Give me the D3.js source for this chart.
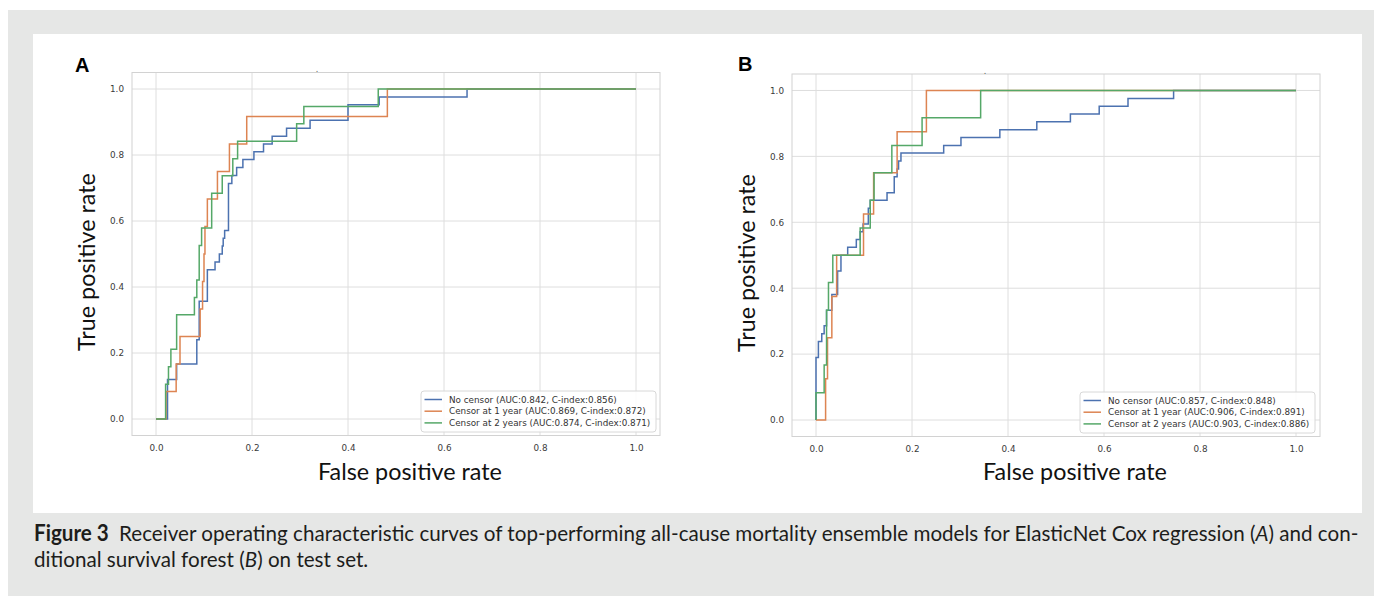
<!DOCTYPE html>
<meta charset="utf-8">
<head>
  <meta charset="UTF-8">
  <title>ROC curves, Figure 3</title>
  <script src="https://d3js.org/d3.v7.min.js"></script>
  <style>
      body { margin: 0; background-color: #fff; }
      svg { display: block; }
  </style>
</head>
<body>
<div id="my_dataviz"></div>
<script>

// tick values shared by both axes of both panels
var rateTicks = [0, 0.2, 0.4, 0.6, 0.8, 1.0];

// Panel A (ElasticNet Cox regression): [fpr, tpr] at the top of every step
var aNoCensor = [[0, 0], [0.024, 0.12], [0.043, 0.167], [0.085, 0.24], [0.09, 0.357],
  [0.107, 0.452], [0.123, 0.476], [0.132, 0.5], [0.138, 0.524], [0.14, 0.548],
  [0.143, 0.571], [0.151, 0.714], [0.158, 0.738], [0.168, 0.762], [0.181, 0.786],
  [0.204, 0.81], [0.224, 0.833], [0.242, 0.857], [0.272, 0.881], [0.321, 0.905],
  [0.4, 0.952], [0.465, 0.976], [0.648, 1], [1, 1]];
var aCensor1 = [[0, 0], [0.021, 0.083], [0.042, 0.167], [0.05, 0.25], [0.092, 0.333],
  [0.097, 0.417], [0.1, 0.5], [0.102, 0.583], [0.107, 0.667], [0.128, 0.75],
  [0.153, 0.833], [0.189, 0.917], [0.482, 1], [1, 1]];
var aCensor2 = [[0, 0], [0.02, 0.105], [0.026, 0.158], [0.031, 0.211], [0.043, 0.316],
  [0.08, 0.368], [0.085, 0.421], [0.09, 0.526], [0.095, 0.579], [0.116, 0.684],
  [0.138, 0.737], [0.16, 0.789], [0.17, 0.842], [0.293, 0.895], [0.308, 0.947],
  [0.463, 1], [1, 1]];

// Panel B (conditional survival forest)
var bNoCensor = [[0, 0], [0, 0.19], [0.005, 0.238], [0.012, 0.262], [0.017, 0.286],
  [0.022, 0.333], [0.033, 0.381], [0.045, 0.452], [0.052, 0.5], [0.066, 0.524],
  [0.084, 0.548], [0.092, 0.571], [0.098, 0.595], [0.109, 0.643], [0.113, 0.667],
  [0.148, 0.69], [0.163, 0.738], [0.169, 0.762], [0.172, 0.786], [0.177, 0.81],
  [0.266, 0.833], [0.302, 0.857], [0.383, 0.881], [0.46, 0.905], [0.53, 0.929],
  [0.59, 0.952], [0.65, 0.976], [0.745, 1], [1, 1]];
var bCensor1 = [[0, 0], [0.02, 0.125], [0.024, 0.25], [0.033, 0.375], [0.043, 0.5],
  [0.099, 0.625], [0.12, 0.75], [0.169, 0.875], [0.23, 1], [1, 1]];
var bCensor2 = [[0, 0], [0, 0.083], [0.017, 0.167], [0.022, 0.333], [0.026, 0.417],
  [0.035, 0.5], [0.092, 0.583], [0.113, 0.667], [0.121, 0.75], [0.158, 0.833],
  [0.221, 0.917], [0.343, 1], [1, 1]];

var aLegend = ["No censor (AUC:0.842, C-index:0.856)",
               "Censor at 1 year (AUC:0.869, C-index:0.872)",
               "Censor at 2 years (AUC:0.874, C-index:0.871)"];
var bLegend = ["No censor (AUC:0.857, C-index:0.848)",
               "Censor at 1 year (AUC:0.906, C-index:0.891)",
               "Censor at 2 years (AUC:0.903, C-index:0.886)"];

var seriesColors = ["#4c72b0", "#dd8452", "#55a868"];

var xTitle = "False positive rate";
var yTitle = "True positive rate";

// caption, pieces are [text, style]
var captionLine1 = [["Figure 3", "bold"],
  ["\u2002Receiver operating characteristic curves of top-performing all-cause mortality ensemble models for ElasticNet Cox regression (", "normal"],
  ["A", "italic"], [") and con-", "normal"]];
var captionLine2 = [["ditional survival forest (", "normal"], ["B", "italic"], [") on test set.", "normal"]];


var svg = d3.select("#my_dataviz")
  .append("svg")
    .attr("width", 1374)
    .attr("height", 596);

// grey page and white figure box
svg.append("rect")
  .attr("x", 8).attr("y", 10).attr("width", 1366).attr("height", 586)
  .attr("fill", "#e6e7e6");
svg.append("rect")
  .attr("x", 33).attr("y", 34).attr("width", 1329).attr("height", 479)
  .attr("fill", "#ffffff");

var panels = [
  {letter: "A", series: [aNoCensor, aCensor1, aCensor2], legend: aLegend,
   left: 132, right: 660, top: 72.5, bottom: 435.5,
   letterX: 75, letterY: 72, dotX: 317, dotY: 72,
   xTitleX: 410, yTitleX: 95, yTitleY: 262, legendX: 421, legendY: 391},
  {letter: "B", series: [bNoCensor, bCensor1, bCensor2], legend: bLegend,
   left: 792, right: 1320, top: 74, bottom: 436.5,
   letterX: 738, letterY: 71, dotX: 985, dotY: 74,
   xTitleX: 1075, yTitleX: 755, yTitleY: 263, legendX: 1080, legendY: 392}
];

panels.forEach(function(p) {

  // matplotlib style 5% margin around [0, 1]
  var x = d3.scaleLinear().domain([-0.05, 1.05]).range([p.left, p.right]);
  var y = d3.scaleLinear().domain([-0.05, 1.05]).range([p.bottom, p.top]);

  var g = svg.append("g");

  // grid
  g.selectAll(".vgrid")
    .data(rateTicks)
    .enter()
    .append("line")
      .attr("x1", function(d) { return x(d); })
      .attr("x2", function(d) { return x(d); })
      .attr("y1", p.top).attr("y2", p.bottom)
      .attr("stroke", "#dedede").attr("stroke-width", 1);
  g.selectAll(".hgrid")
    .data(rateTicks)
    .enter()
    .append("line")
      .attr("y1", function(d) { return y(d); })
      .attr("y2", function(d) { return y(d); })
      .attr("x1", p.left).attr("x2", p.right)
      .attr("stroke", "#dedede").attr("stroke-width", 1);

  // frame
  g.append("rect")
    .attr("x", p.left).attr("y", p.top)
    .attr("width", p.right - p.left).attr("height", p.bottom - p.top)
    .attr("fill", "none").attr("stroke", "#d2d2d2").attr("stroke-width", 1);

  // axes, labels only
  var xAxis = g.append("g")
    .attr("transform", "translate(0," + p.bottom + ")")
    .call(d3.axisBottom(x).tickValues(rateTicks).tickSize(0).tickPadding(9)
      .tickFormat(d3.format(".1f")));
  var yAxis = g.append("g")
    .attr("transform", "translate(" + p.left + ",0)")
    .call(d3.axisLeft(y).tickValues(rateTicks).tickSize(0).tickPadding(8)
      .tickFormat(d3.format(".1f")));
  [xAxis, yAxis].forEach(function(a) {
    a.select(".domain").remove();
    a.selectAll("text")
      .style("font-family", "DejaVu Sans")
      .style("font-size", "8.8px")
      .attr("fill", "#3a3a3a");
  });

  // curves
  var line = d3.line()
    .x(function(d) { return x(d[0]); })
    .y(function(d) { return y(d[1]); })
    .curve(d3.curveStepAfter);

  g.selectAll(".roc")
    .data(p.series)
    .enter()
    .append("path")
      .attr("d", line)
      .attr("fill", "none")
      .attr("stroke", function(d, i) { return seriesColors[i]; })
      .attr("stroke-width", 1.5);

  // legend
  var leg = g.append("g")
    .attr("transform", "translate(" + p.legendX + "," + p.legendY + ")");
  leg.append("rect")
    .attr("width", 235).attr("height", 41).attr("rx", 3)
    .attr("fill", "#ffffff").attr("fill-opacity", 0.85)
    .attr("stroke", "#d8d8d8").attr("stroke-width", 1);
  p.legend.forEach(function(label, i) {
    var ly = 8.5 + i * 11.7;
    leg.append("line")
      .attr("x1", 3.5).attr("x2", 21).attr("y1", ly).attr("y2", ly)
      .attr("stroke", seriesColors[i]).attr("stroke-width", 1.5);
    leg.append("text")
      .attr("x", 28).attr("y", ly)
      .attr("dy", "0.35em")
      .style("font-family", "DejaVu Sans")
      .style("font-size", "8.8px")
      .attr("fill", "#333")
      .text(label);
  });

  // axis titles
  var xt = g.append("text")
    .attr("x", p.xTitleX).attr("y", 480)
    .attr("text-anchor", "middle")
    .style("font-family", "Lato")
    .style("font-size", "20px")
    .attr("fill", "#111")
    .text(xTitle);
  // fit the title to the width measured on the figure
  var fs = 20 * 184 / xt.node().getComputedTextLength();
  xt.style("font-size", fs + "px");

  g.append("text")
    .attr("transform", "translate(" + p.yTitleX + "," + p.yTitleY + ")rotate(-90)")
    .attr("text-anchor", "middle")
    .style("font-family", "Lato")
    .style("font-size", fs + "px")
    .attr("fill", "#111")
    .text(yTitle);

  // panel letter and the stray title dot
  g.append("text")
    .attr("x", p.letterX).attr("y", p.letterY)
    .style("font-family", "Liberation Sans")
    .style("font-weight", "bold")
    .style("font-size", "20px")
    .attr("fill", "#000")
    .text(p.letter);
  g.append("text")
    .attr("x", p.dotX).attr("y", p.dotY)
    .attr("text-anchor", "middle")
    .style("font-family", "DejaVu Sans")
    .style("font-size", "8px")
    .attr("fill", "#555")
    .text(".");
});

// caption
var cap = svg.append("g");
function captionText(pieces, yPos) {
  var t = cap.append("text")
    .attr("x", 0).attr("y", yPos)
    .style("font-family", "Lato")
    .style("font-size", "22px")
    .attr("fill", "#1d1d1b");
  pieces.forEach(function(pc) {
    t.append("tspan")
      .style("font-weight", pc[1] == "bold" ? "bold" : "normal")
      .style("font-style", pc[1] == "italic" ? "italic" : "normal")
      .text(pc[0]);
  });
  return t;
}
var c1 = captionText(captionLine1, 541);
captionText(captionLine2, 567.5);
var sx = 1325 / c1.node().getComputedTextLength();
cap.attr("transform", "translate(34,0)scale(" + sx + ",1)");

</script>
</body>
